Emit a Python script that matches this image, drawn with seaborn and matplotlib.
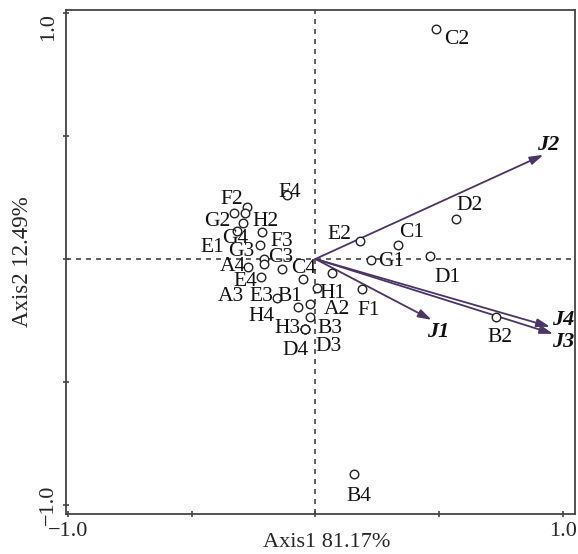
import numpy as np
import pandas as pd
import matplotlib
matplotlib.use('Agg')
import matplotlib.pyplot as plt
import seaborn as sns

# sample scores (Axis1, Axis2)
names = ['F4', 'F2', 'G2', 'H2', 'E1', 'G4', 'G3', 'F3', 'C3', 'A4', 'A3', 'C4',
         'E4', 'E3', 'B1', 'H1', 'A2', 'H4', 'B3', 'H3', 'D3', 'D4', 'F1', 'E2',
         'G1', 'C1', 'D1', 'D2', 'B2', 'C2', 'B4', '']
axis1 = [-0.116, -0.275, -0.328, -0.285, -0.292, -0.318, -0.215, -0.224, -0.207, -0.271, -0.207, 0.066,
         -0.220, -0.154, -0.049, 0.005, -0.022, -0.072, -0.022, -0.042, -0.042, -0.042, 0.187, 0.180,
         0.224, 0.335, 0.464, 0.569, 0.731, 0.488, 0.156, -0.134]
axis2 = [0.261, 0.213, 0.189, 0.186, 0.145, 0.114, 0.109, 0.057, -0.001, -0.031, -0.022, -0.058,
         -0.072, -0.160, -0.083, -0.119, -0.183, -0.194, -0.235, -0.286, -0.286, -0.286, -0.123, 0.075,
         -0.004, 0.057, 0.012, 0.162, -0.235, 0.937, -0.876, -0.042]

# environmental vectors
env = ['J1', 'J2', 'J3', 'J4']
env_x = [0.470, 0.922, 0.962, 0.949]
env_y = [-0.248, 0.424, -0.305, -0.276]

# label placement (pixel offsets from the point)
lab_off = [(3, 2), (-16, 7), (-17, -9), (21, -8), (-31, -24), (-2, -8), (-21, -19), (22, 3),
           (16, 2), (-16, 0), (-33, -32), (-28, 5), (-16, -5), (-16, 2), (-13, -17), (16, -5),
           (27, -6), (-36, -10), (20, -12), (-18, 1), (24, -17), (-9, -21), (7, -21), (-21, 6),
           (20, -2), (13, 12), (17, -21), (13, 14), (4, -21), (21, -11), (5, -22), (0, 0)]
env_off = [(7, -12), (5, 10), (10, -8), (13, 7)]

df = pd.DataFrame({'name': names, 'Axis1': axis1, 'Axis2': axis2})

sns.set_style('ticks')
plt.rcParams['font.family'] = ['Liberation Serif', 'DejaVu Serif']

fig = plt.figure(figsize=(5.78, 5.54), dpi=100)
ax = fig.add_axes([0.1137, 0.072, 0.8811, 0.910])

ax.axhline(0, color='#444444', lw=1.2, ls=(0, (3, 3)), zorder=1)
ax.axvline(0, color='#444444', lw=1.2, ls=(0, (3, 3)), zorder=1)

sns.scatterplot(data=df, x='Axis1', y='Axis2', ax=ax, marker='o', s=38,
                facecolor='white', edgecolor='#222222', linewidth=1.0, zorder=3)

for n, x, y, (dx, dy) in zip(names, axis1, axis2, lab_off):
    if n:
        ax.annotate(n, (x, y), xytext=(dx, dy), textcoords='offset pixels',
                    ha='center', va='center', fontsize=15.5, color='#111111', zorder=4)

for n, x, y, (dx, dy) in zip(env, env_x, env_y, env_off):
    ax.annotate('', xy=(x, y), xytext=(0, 0),
                arrowprops=dict(arrowstyle='-|>,head_length=0.8,head_width=0.25',
                                color='#4a3566', lw=1.3, shrinkA=0, shrinkB=0), zorder=2)
    ax.annotate(n, (x, y), xytext=(dx, dy), textcoords='offset pixels',
                ha='center', va='center', fontsize=16, fontweight='bold',
                fontstyle='italic', color='#111111')

ax.set_xlim(-1.01, 1.05)
ax.set_ylim(-1.039, 1.014)
ax.set_xticks([-1.0, -0.5, 0, 0.5, 1.0])
ax.set_xticklabels(['\u22121.0', '', '', '', '1.0'])
ax.set_yticks([-1.0, -0.5, 0, 0.5, 1.0])
ax.set_yticklabels(['\u22121.0', '', '', '', '1.0'], rotation=90, va='center')
ax.get_yticklabels()[-1].set_va('top')
ax.tick_params(direction='inout', length=5, width=1.2, color='#444444', labelsize=16, pad=3)

for sp in ax.spines.values():
    sp.set_color('#444444')
    sp.set_linewidth(1.3)
    sp.set_visible(True)

ax.set_xlabel('Axis1 81.17%', fontsize=16)
ax.xaxis.set_label_coords(0.512, -0.038)
ax.set_ylabel('Axis2 12.49%', fontsize=16.5)
ax.yaxis.set_label_coords(-0.065, 0.5)

fig.savefig('out.png', dpi=100)
